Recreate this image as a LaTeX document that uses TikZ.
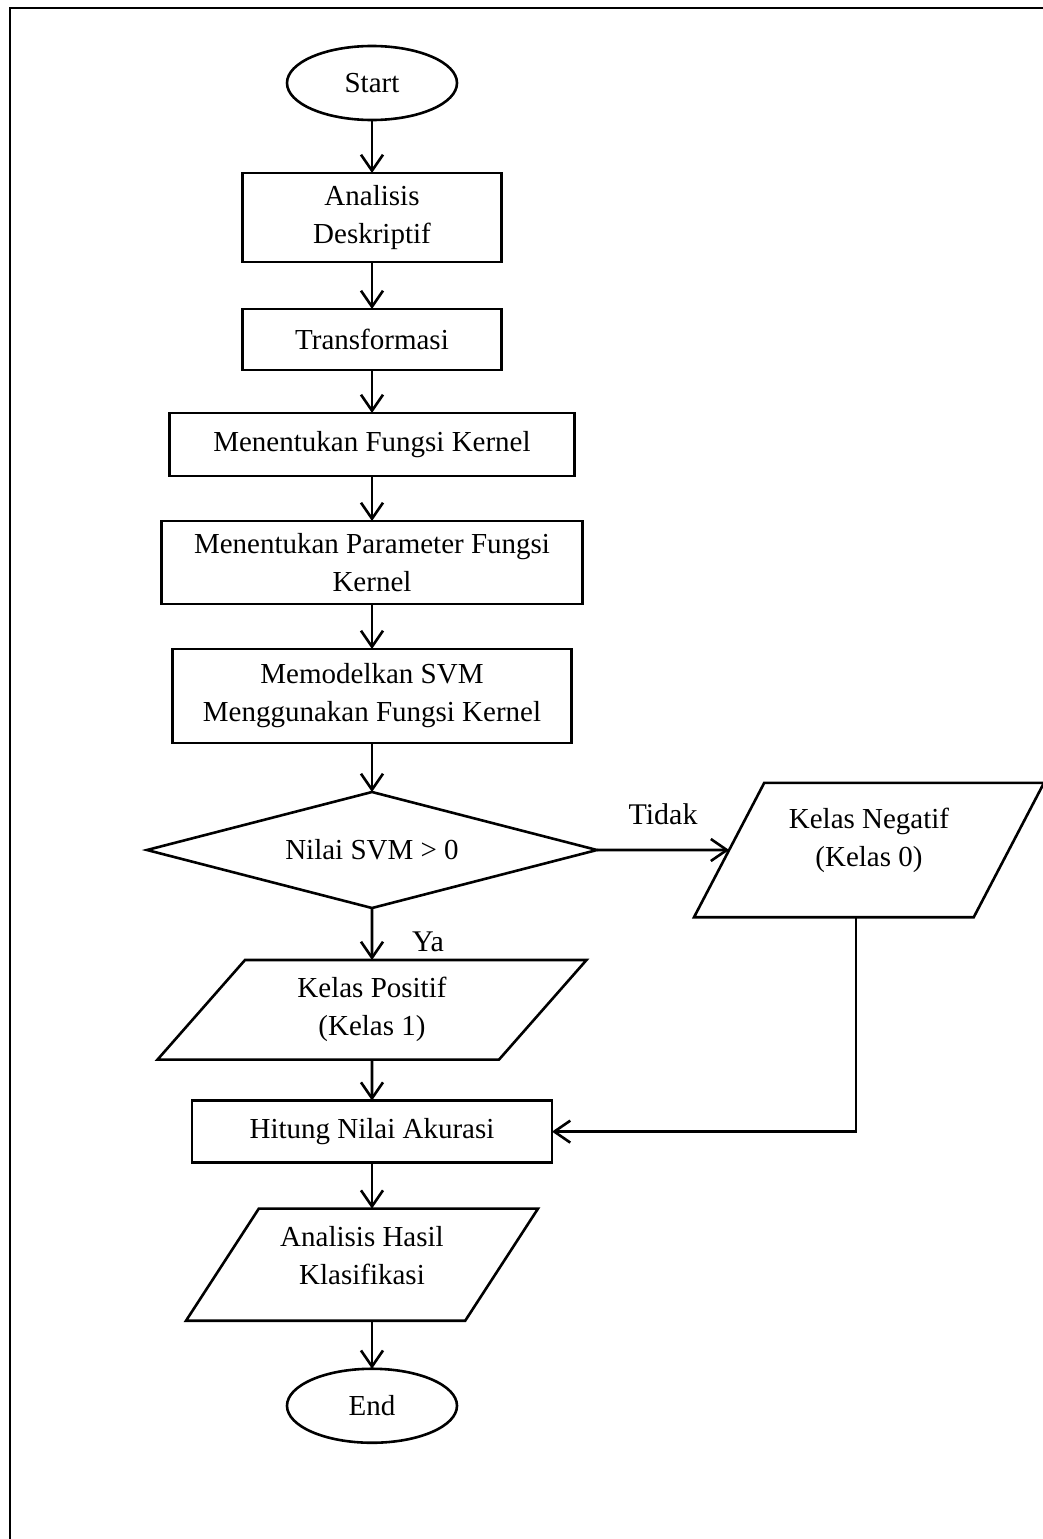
\documentclass[tikz,border=0pt]{standalone}
\usepackage{fontspec}
\setmainfont{Liberation Serif}
\usetikzlibrary{arrows.meta,shapes.geometric,positioning}

\begin{document}
\begin{tikzpicture}[
    x=1pt, y=-1pt,
    line width=2.6pt,
    font=\fontsize{29}{38}\selectfont,
    every node/.style={outer sep=0pt},
    terminal/.style={ellipse, draw, minimum width=170pt, minimum height=74pt, inner sep=0pt},
    process/.style={rectangle, draw, align=center, inner sep=4pt},
    decision/.style={diamond, draw, minimum width=450pt, minimum height=116pt, aspect=3.9, inner sep=0pt},
    io/.style={trapezium, draw, align=center, trapezium stretches body, inner xsep=0pt},
    lbl/.style={font=\fontsize{30}{36}\selectfont},
    arr/.style={-{Straight Barb[length=16pt, width=22pt]}}
]
    \useasboundingbox (0,0) rectangle (1043,1539);
    \draw (1043,8) -- (10,8) -- (10,1539);

    % Main flow
    \node[terminal] (start) at (372,83) {Start};
    \node[process, minimum width=259pt, minimum height=89pt, below=53pt of start] (desc) {Analisis\\Deskriptif};
    \node[process, minimum width=259pt, minimum height=61pt, below=47pt of desc] (trans) {Transformasi};
    \node[process, minimum width=405pt, minimum height=63pt, below=43pt of trans] (kern) {Menentukan Fungsi Kernel};
    \node[process, minimum width=421pt, minimum height=83pt, below=45pt of kern] (param) {Menentukan Parameter Fungsi\\Kernel};
    \node[process, minimum width=399pt, minimum height=94pt, below=45pt of param] (model) {Memodelkan SVM\\Menggunakan Fungsi Kernel};
    \node[decision, below=49pt of model] (svm) {Nilai SVM > 0};
    \node[io, trapezium left angle=48.7, trapezium right angle=131.3, inner ysep=17.5pt, minimum width=429pt, minimum height=98pt, below=52pt of svm] (pos) {Kelas Positif\\(Kelas 1)};
    \node[process, minimum width=360pt, minimum height=62pt, below=41pt of pos] (acc) {Hitung Nilai Akurasi};
    \node[io, trapezium left angle=57, trapezium right angle=123, inner ysep=18pt, minimum width=352pt, minimum height=112pt, text depth=18pt, below=46pt of acc, xshift=-10pt] (hasil) {Analisis Hasil\\Klasifikasi};
    \node[terminal, below=48pt of hasil, xshift=10pt] (end) {End};

    % Negative branch
    \node[io, trapezium left angle=62.4, trapezium right angle=117.6, inner ysep=25pt, minimum width=350pt, minimum height=134pt, text depth=26pt] (neg) at ([xshift=497pt]svm.center) {Kelas Negatif\\(Kelas 0)};

    \draw[arr] (start) -- (desc);
    \draw[arr] (desc) -- (trans);
    \draw[arr] (trans) -- (kern);
    \draw[arr] (kern) -- (param);
    \draw[arr] (param) -- (model);
    \draw[arr] (model) -- (svm);
    \draw[arr] (svm) -- node[lbl, midway, xshift=56pt, yshift=-8pt] (ya) {Ya} (pos);
    \draw[arr] (svm) -- node[lbl, midway, yshift=36pt] (tidak) {Tidak} (neg);
    \draw[arr] (pos) -- (acc);
    \draw[arr] ([xshift=-13pt]neg.south) |- (acc);
    \draw[arr] (acc) -- (acc |- hasil.north);
    \draw[arr] (end |- hasil.south) -- (end);
\end{tikzpicture}
\end{document}
